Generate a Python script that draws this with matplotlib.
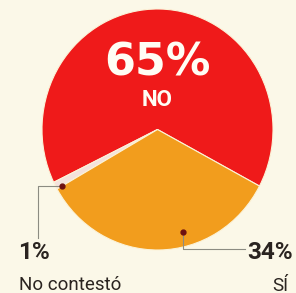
import matplotlib
matplotlib.use("Agg")
import matplotlib.pyplot as plt

LABELS = ["NO", "No contestó", "SÍ"]
VALUES = [65, 1, 34]
PCT_TEXT = ["65%", "1%", "34%"]
COLORS = ["#ef1a1a", "#f4e2dc", "#f29d1d"]
BG = "#fbf8e8"

# pie geometry in pixels (slightly taller than wide, as in the scan)
CX, CY, RX, RY = 157.5, 129.5, 115.5, 120.5
W, H = 296, 293


def P(x, y):
    return (x - CX) / RX, (CY - y) / RY


fig = plt.figure(figsize=(W / 100, H / 100), dpi=100)
fig.patch.set_facecolor(BG)
ax = fig.add_axes([0, 0, 1, 1])
ax.set_facecolor(BG)

ax.pie(VALUES, colors=COLORS, startangle=-28, counterclock=True, radius=1,
       wedgeprops=dict(edgecolor="#fbf3d8", linewidth=0.8))
ax.set_aspect("auto")
ax.set_xlim(-CX / RX, (W - CX) / RX)
ax.set_ylim((CY - H) / RY, CY / RY)
ax.axis("off")

narrow = ["Roboto", "DejaVu Sans"]

# big label inside the red slice
ax.text(*P(157, 63), PCT_TEXT[0], color="#fffdf4", fontsize=32, fontweight="bold",
        ha="center", va="center", family="DejaVu Sans")
ax.text(*P(157, 100), LABELS[0], color="#fffdf4", fontsize=16, fontweight="bold",
        ha="center", va="center", family=narrow)

# leader lines
line_kw = dict(color="#8c8c82", linewidth=0.8)
x1, y1 = zip(P(62, 186), P(38, 186), P(38, 238))
ax.plot(x1, y1, **line_kw)
ax.plot(*P(62, 186), "o", color="#6e1010", markersize=3.5)
x2, y2 = zip(P(183, 232), P(183, 249), P(245, 249))
ax.plot(x2, y2, **line_kw)
ax.plot(*P(183, 232), "o", color="#6e1010", markersize=3.5)

dark = "#2a2420"
ax.text(*P(18, 259), PCT_TEXT[1], color=dark, fontsize=17.5, fontweight="bold",
        ha="left", va="baseline", family=narrow)
ax.text(*P(19, 290), LABELS[1], color=dark, fontsize=13.5,
        ha="left", va="baseline", family=narrow)
ax.text(*P(247, 259), PCT_TEXT[2], color=dark, fontsize=17.5, fontweight="bold",
        ha="left", va="baseline", family=narrow)
ax.text(*P(272, 291), LABELS[2], color=dark, fontsize=13.5,
        ha="left", va="baseline", family=narrow)

fig.savefig("out.png", dpi=100, facecolor=BG)
